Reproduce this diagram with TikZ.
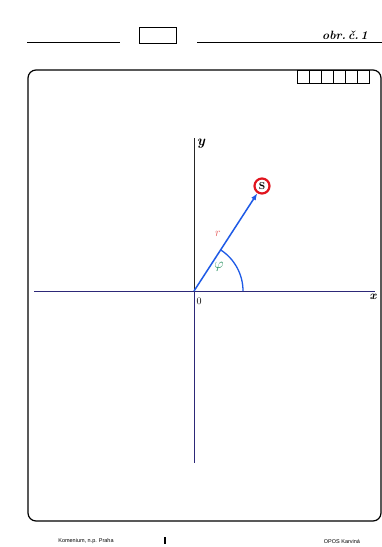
\documentclass[tikz,border=0pt]{standalone}
\usepackage{fontspec}
\setsansfont{Liberation Sans}
\usetikzlibrary{arrows.meta}
\definecolor{axisblue}{RGB}{45,40,120}
\definecolor{vecblue}{RGB}{30,90,230}
\definecolor{pointred}{RGB}{225,20,30}
\definecolor{rred}{RGB}{230,90,90}
\definecolor{anglegreen}{RGB}{30,140,90}
\begin{document}
\begin{tikzpicture}[x=1pt, y=-1pt, every node/.style={font=\small}]
        \useasboundingbox[fill=white] (0,0) rectangle (382,547);

        % header of the sheet
        \draw[thick] (27,42) -- (120,42);
        \draw[thick] (139,27) rectangle (176,43);
        \draw[thick] (197,42) -- (382,42);
        \node[font=\large\itshape\bfseries] (title) at (345,35) {obr.\,č.\,1};

        % frame and cells
        \draw[very thick, rounded corners=8pt] (28,70) rectangle (381,521);
        \foreach \i in {0,...,5}
            \draw[thick] (297+12*\i,70) rectangle (309+12*\i,83);

        % axes
        \coordinate (O) at (194,291);
        \draw[line width=0.8pt, axisblue] (34,291) -- (375,291);
        \draw[line width=0.8pt, black!85] (194,138) -- (O);
        \draw[line width=0.8pt, axisblue] (O) -- (194,463);
        \node[font=\large\bfseries\itshape] (xlab) at (373,297) {x};
        \node[font=\Large\bfseries\itshape] (ylab) at (201,144) {y};
        \node[font=\normalsize] (olab) at (199,301) {0};

        % point and position vector
        \node[draw=pointred, line width=2.2pt, circle, inner sep=0pt, minimum size=15pt,
              font=\normalsize\bfseries] (S) at (262,186) {S};
        \draw[-{Latex[length=7pt]}, line width=1.5pt, vecblue] (O) -- (S);
        \draw[line width=1.3pt, vecblue] (O) ++(0:49) arc[start angle=0, end angle=-57, radius=49];
        \node[rred, font=\large\bfseries] (rlab) at (218,234) {$r$};
        \node[anglegreen, font=\Large\bfseries] (philab) at (219,267) {$\varphi$};

        % footer
        \node[font=\sffamily\fontsize{5.5}{6}\selectfont] (left) at (86,541) {Komenium, n.p. Praha};
        \node[font=\sffamily\fontsize{5.5}{6}\selectfont] (right) at (342,541) {OPOS Karviná};
        \draw[line width=1.5pt] (165,537) -- (165,544);
    \end{tikzpicture}
\end{document}
